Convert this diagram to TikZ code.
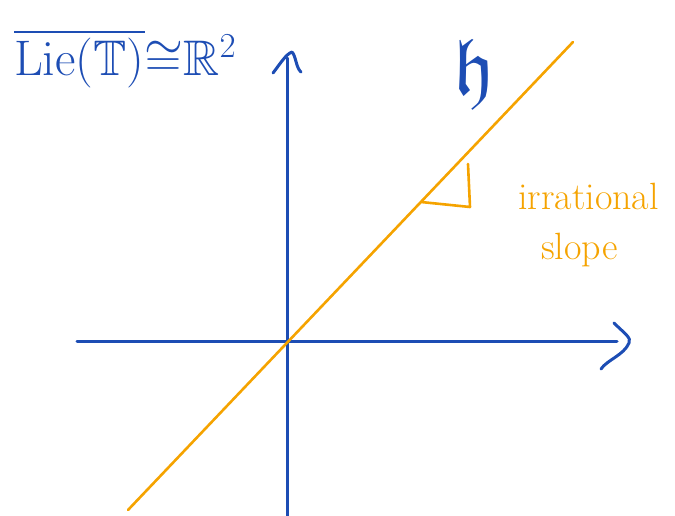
\RequirePackage{fix-cm}
\documentclass[tikz,border=0pt]{standalone}
\usepackage{amssymb}
\definecolor{penblue}{HTML}{1D4DB4}
\definecolor{penorange}{HTML}{F5A300}
\tikzset{
  bluepen/.style={draw=penblue, line width=3pt, line cap=round, line join=round},
  orangepen/.style={draw=penorange, line width=2.6pt, line cap=round, line join=round},
  bluelabel/.style={text=penblue, inner sep=0pt},
  orangelabel/.style={text=penorange, inner sep=0pt}
}
\begin{document}
\begin{tikzpicture}[x=1pt,y=-1pt]
\useasboundingbox (0,0) rectangle (675,516);
% axes coordinates
\coordinate (xl) at (77,341);
\coordinate (xr) at (617,341);
\coordinate (yb) at (287,516);
\coordinate (yt) at (287,58);
\coordinate (ll) at (128,510);
\coordinate (lu) at (573,42);
% axes
\draw[bluepen] (xl) -- (xr);
\draw[bluepen] (yb) -- (yt);
% arrowheads (hand drawn)
\coordinate (xa1) at (614,323);
\coordinate (xa2) at (629,343);
\coordinate (xa3) at (601,369);
\draw[bluepen] (xa1) .. controls (624,333) and (632,338) .. (xa2) .. controls (624,355) and (607,360) .. (xa3);
\coordinate (ya1) at (273,73);
\coordinate (ya2) at (292,52);
\coordinate (ya3) at (301,72);
\draw[bluepen] (ya1) .. controls (280,64) and (286,54) .. (ya2) .. controls (296,56) and (296,68) .. (ya3);
% line h
\draw[orangepen] (ll) -- (lu);
% right angle mark
\coordinate (ra1) at (421,202);
\coordinate (ra2) at (470,207);
\coordinate (ra3) at (468,164);
\draw[orangepen] (ra1) -- (ra2) -- (ra3);
% labels
\node[bluelabel, anchor=base west] (title) at (14,76) {\fontsize{50}{54}\selectfont $\overline{\mathrm{Lie}(\mathbb{T})}{\cong}\mathbb{R}^2$};
\node[bluelabel] (hlabel) at (474,74) {\fontsize{80}{84}\selectfont $\mathfrak{h}$};
\node[orangelabel, anchor=base west] (irr) at (518,209) {\fontsize{38}{40}\selectfont irrational};
\node[orangelabel, anchor=base west] (slope) at (541,259) {\fontsize{38}{40}\selectfont slope};
\end{tikzpicture}
\end{document}
